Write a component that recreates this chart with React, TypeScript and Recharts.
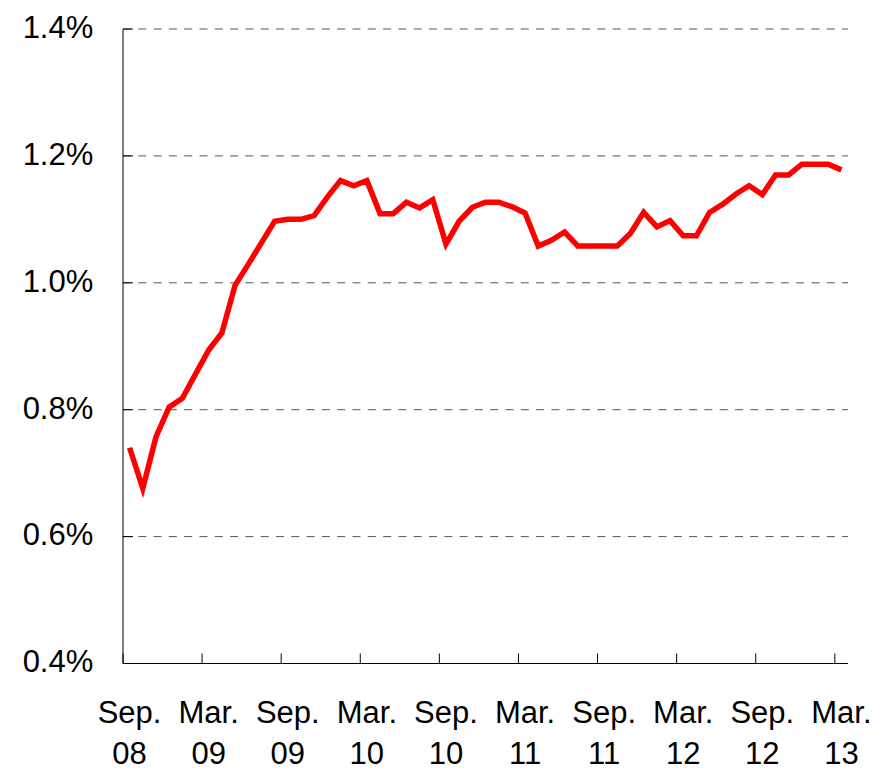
import React from "react";
import { LineChart, Line, XAxis, YAxis, CartesianGrid } from "recharts";

const months: string[] = [
  "2008-09", "2008-10", "2008-11", "2008-12",
  "2009-01", "2009-02", "2009-03", "2009-04", "2009-05", "2009-06", "2009-07", "2009-08", "2009-09", "2009-10", "2009-11", "2009-12",
  "2010-01", "2010-02", "2010-03", "2010-04", "2010-05", "2010-06", "2010-07", "2010-08", "2010-09", "2010-10", "2010-11", "2010-12",
  "2011-01", "2011-02", "2011-03", "2011-04", "2011-05", "2011-06", "2011-07", "2011-08", "2011-09", "2011-10", "2011-11", "2011-12",
  "2012-01", "2012-02", "2012-03", "2012-04", "2012-05", "2012-06", "2012-07", "2012-08", "2012-09", "2012-10", "2012-11", "2012-12",
  "2013-01", "2013-02", "2013-03",
];

const values: number[] = [
  0.740, 0.676, 0.757, 0.804, 0.818, 0.856, 0.894, 0.921, 0.996, 1.029,
  1.063, 1.097, 1.100, 1.100, 1.106, 1.135, 1.161, 1.153, 1.161, 1.109,
  1.109, 1.127, 1.118, 1.131, 1.061, 1.097, 1.119, 1.127, 1.127, 1.120,
  1.110, 1.058, 1.067, 1.080, 1.058, 1.058, 1.058, 1.058, 1.078, 1.111,
  1.088, 1.098, 1.074, 1.074, 1.111, 1.124, 1.140, 1.153, 1.139, 1.170,
  1.170, 1.187, 1.187, 1.187, 1.178,
];

const xTickIndices: number[] = [0, 6, 12, 18, 24, 30, 36, 42, 48, 54];
const xTickLabels: string[][] = [
  ["Sep.", "08"], ["Mar.", "09"], ["Sep.", "09"], ["Mar.", "10"], ["Sep.", "10"],
  ["Mar.", "11"], ["Sep.", "11"], ["Mar.", "12"], ["Sep.", "12"], ["Mar.", "13"],
];
const yTicks: number[] = [0.4, 0.6, 0.8, 1.0, 1.2, 1.4];

const data = months.map((m, i) => ({ month: m, pos: i + 0.5, value: values[i] }));

const W = 877;
const H = 771;
const MARGIN = { top: 29, right: 29, bottom: 0, left: 0 };
const Y_AXIS_W = 123;
const X_AXIS_H = 107.5;
const FONT = "'Liberation Sans', Arial, sans-serif";
const FS = 31;
const HALF_STEP = (W - MARGIN.left - Y_AXIS_W - MARGIN.right) / months.length / 2;

const XTick = (props: any) => {
  const { x, y, payload } = props;
  const idx = xTickIndices.indexOf(payload.value);
  const lab = xTickLabels[idx] || ["", ""];
  return (
    <g>
      <line x1={x} y1={y} x2={x} y2={y - 10} stroke="#000" strokeWidth={1} />
      <text x={x + HALF_STEP} y={y} textAnchor="middle" fontFamily={FONT} fontSize={FS} fill="#000">
        <tspan x={x + HALF_STEP} dy={59}>{lab[0]}</tspan>
        <tspan x={x + HALF_STEP} dy={41.5}>{lab[1]}</tspan>
      </text>
    </g>
  );
};

const YTick = (props: any) => {
  const { x, y, payload } = props;
  return (
    <g>
      <line x1={x} y1={y} x2={x + 10} y2={y} stroke="#000" strokeWidth={1} />
      <text x={x - 29.7} y={y + 8.8} textAnchor="end" fontFamily={FONT} fontSize={FS} fill="#000">
        {payload.value.toFixed(1) + "%"}
      </text>
    </g>
  );
};

export default function App() {
  return (
    <div style={{ position: "absolute", left: 0, top: 0, width: W, height: H, background: "#fff" }}>
      <LineChart width={W} height={H} data={data} margin={MARGIN}>
        <CartesianGrid vertical={false} stroke="#555" strokeDasharray="8 7.3" />
        <XAxis
          dataKey="pos"
          type="number"
          domain={[0, months.length]}
          ticks={xTickIndices}
          interval={0}
          height={X_AXIS_H}
          tickSize={0}
          tickMargin={0}
          tickLine={false}
          axisLine={{ stroke: "#000", strokeWidth: 1 }}
          tick={<XTick />}
          allowDataOverflow
        />
        <YAxis
          type="number"
          domain={[0.4, 1.4]}
          ticks={yTicks}
          interval={0}
          width={Y_AXIS_W}
          tickSize={0}
          tickMargin={0}
          tickLine={false}
          axisLine={{ stroke: "#000", strokeWidth: 1 }}
          tick={<YTick />}
          allowDataOverflow
        />
        <Line
          type="linear"
          dataKey="value"
          stroke="#ff0000"
          strokeWidth={5.5}
          dot={false}
          activeDot={false}
          isAnimationActive={false}
        />
      </LineChart>
    </div>
  );
}
